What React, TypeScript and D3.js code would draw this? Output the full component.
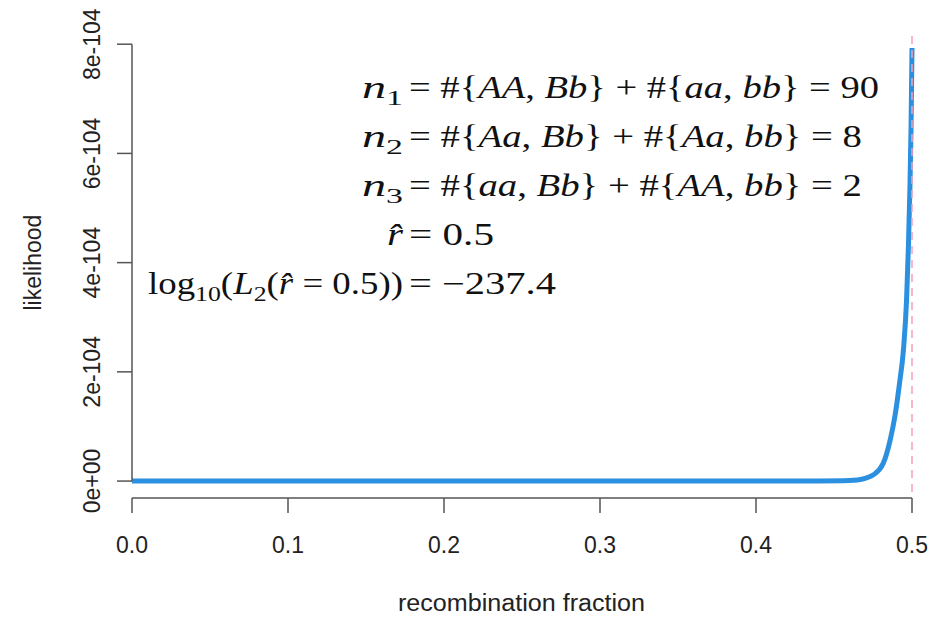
import React from "react";
import * as d3 from "d3";

// recombination fraction values (x) and likelihood in units of 1e-104 (y)
const rValues = [0, 0.1, 0.2, 0.3, 0.4, 0.44, 0.46, 0.465, 0.47, 0.475, 0.4815, 0.486, 0.489, 0.492, 0.4945, 0.4965, 0.4977, 0.4987, 0.4994, 0.5];
const likelihood = [0, 0, 0, 0, 0, 0.003, 0.01, 0.02, 0.05, 0.11, 0.32, 0.75, 1.18, 1.79, 2.4, 3.31, 4.3, 5.4, 6.5, 7.93];

const xTicks = [0, 0.1, 0.2, 0.3, 0.4, 0.5];
const xTickLabels = ["0.0", "0.1", "0.2", "0.3", "0.4", "0.5"];
const yTicks = [0, 2, 4, 6, 8];
const yTickLabels = ["0e+00", "2e-104", "4e-104", "6e-104", "8e-104"];
const rHat = 0.5;

type Seg = { t: string; it?: boolean; sub?: boolean };
const eqLeft: Seg[][] = [
  [{ t: "n", it: true }, { t: "1", sub: true }],
  [{ t: "n", it: true }, { t: "2", sub: true }],
  [{ t: "n", it: true }, { t: "3", sub: true }],
  [{ t: "r\u0302", it: true }],
  [{ t: "log" }, { t: "10", sub: true }, { t: "(" }, { t: "L", it: true }, { t: "2", sub: true }, { t: "(" }, { t: "r\u0302", it: true }, { t: " = 0.5))" }],
];
const eqRight: Seg[][] = [
  [{ t: "= #{" }, { t: "AA", it: true }, { t: ", " }, { t: "Bb", it: true }, { t: "} + #{" }, { t: "aa", it: true }, { t: ", " }, { t: "bb", it: true }, { t: "} = 90" }],
  [{ t: "= #{" }, { t: "Aa", it: true }, { t: ", " }, { t: "Bb", it: true }, { t: "} + #{" }, { t: "Aa", it: true }, { t: ", " }, { t: "bb", it: true }, { t: "} = 8" }],
  [{ t: "= #{" }, { t: "aa", it: true }, { t: ", " }, { t: "Bb", it: true }, { t: "} + #{" }, { t: "AA", it: true }, { t: ", " }, { t: "bb", it: true }, { t: "} = 2" }],
  [{ t: "= 0.5" }],
  [{ t: "= \u2212237.4" }],
];
// measured extents of each annotation part in the reference
const leftWidths = [41, 41, 41, 16, 255];
const rightWidths = [470, 453, 453, 85, 147];

const W = 935;
const H = 617;

function renderSegs(segs: Seg[]) {
  const out: React.ReactNode[] = [];
  let shifted = false;
  segs.forEach((s, i) => {
    let dy = 0;
    if (s.sub && !shifted) { dy = 7; shifted = true; }
    else if (!s.sub && shifted) { dy = -7; shifted = false; }
    out.push(
      <tspan key={i} dy={dy || undefined} fontStyle={s.it ? "italic" : "normal"} fontSize={s.sub ? "0.7em" : undefined}>
        {s.t}
      </tspan>
    );
  });
  return out;
}

export default function App() {
  const x = d3.scaleLinear().domain([0, 0.5]).range([132, 912]);
  const y = d3.scaleLinear().domain([-0.31, 8.15]).range([498, 36]);
  const pts = rValues.map((r, i) => [r, likelihood[i]] as [number, number]);
  const line = d3
    .line<[number, number]>()
    .x((d) => x(d[0]))
    .y((d) => y(d[1]))
    .curve(d3.curveMonotoneX);

  const axisColor = "#555";
  const textColor = "#222";
  const sans = "'Liberation Sans', Arial, Helvetica, sans-serif";
  const serif = "'Liberation Serif', 'Times New Roman', serif";
  const eqX = 403;
  const baselines = [98, 147, 196, 245, 294];

  return (
    <svg width={W} height={H} style={{ position: "absolute", left: 0, top: 0, background: "#fff" }}>
      <rect x={0} y={0} width={W} height={H} fill="#fff" />
      {/* curve */}
      <path d={line(pts) || ""} fill="none" stroke="#2b90e0" strokeWidth={5} strokeLinejoin="round" />
      {/* r-hat dashed line */}
      <line x1={x(rHat)} x2={x(rHat)} y1={y.range()[1]} y2={y.range()[0]} stroke="#f3a0b4" strokeWidth={1.5} strokeDasharray="8,6" />

      {/* y axis */}
      <line x1={132} x2={132} y1={y(0)} y2={y(8)} stroke={axisColor} strokeWidth={1.5} />
      {yTicks.map((t, i) => (
        <g key={t}>
          <line x1={117} x2={132} y1={y(t)} y2={y(t)} stroke={axisColor} strokeWidth={1.5} />
          <text transform={`translate(100,${y(t)}) rotate(-90)`} textAnchor="middle" fontFamily={sans} fontSize={23} fill={textColor}>
            {yTickLabels[i]}
          </text>
        </g>
      ))}
      <text transform={`translate(41,${y(4)}) rotate(-90)`} textAnchor="middle" fontFamily={sans} fontSize={23} fill={textColor}>
        likelihood
      </text>

      {/* x axis */}
      <line x1={x(0)} x2={x(0.5)} y1={498} y2={498} stroke={axisColor} strokeWidth={1.5} />
      {xTicks.map((t, i) => (
        <g key={t}>
          <line x1={x(t)} x2={x(t)} y1={498} y2={513} stroke={axisColor} strokeWidth={1.5} />
          <text x={x(t)} y={553} textAnchor="middle" fontFamily={sans} fontSize={23} fill={textColor}>
            {xTickLabels[i]}
          </text>
        </g>
      ))}
      <text x={398} y={611} textLength={247} lengthAdjust="spacingAndGlyphs" fontFamily={sans} fontSize={23} fill={textColor}>
        recombination fraction
      </text>

      {/* annotation */}
      {eqLeft.map((segs, i) => (
        <text key={"l" + i} x={eqX - leftWidths[i]} y={baselines[i]} textLength={leftWidths[i]} lengthAdjust="spacingAndGlyphs" fontFamily={serif} fontSize={31} fill="#111">
          {renderSegs(segs)}
        </text>
      ))}
      {eqRight.map((segs, i) => (
        <text key={"r" + i} x={eqX + 6} y={baselines[i]} textLength={rightWidths[i]} lengthAdjust="spacingAndGlyphs" fontFamily={serif} fontSize={31} fill="#111">
          {renderSegs(segs)}
        </text>
      ))}
    </svg>
  );
}
